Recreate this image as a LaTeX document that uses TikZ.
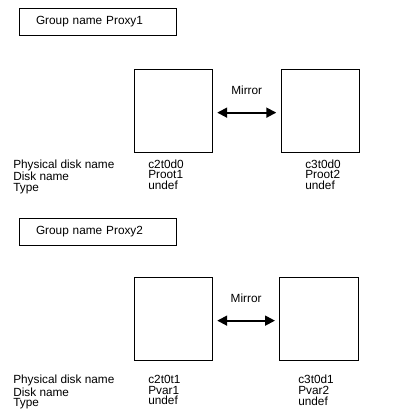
\documentclass[tikz,border=0pt]{standalone}
\usepackage{fontspec}
\setmainfont{Liberation Sans}
\usetikzlibrary{arrows.meta, positioning}

\begin{document}
\begin{tikzpicture}[>={Triangle[length=7pt,width=7pt]},
  txt/.style={font=\fontsize{8.4}{7.6}\selectfont},
  grpbox/.style={draw, txt, line width=0.6pt, align=left, text width=3.075cm,
                 minimum height=0.675cm, inner xsep=0.425cm, inner ysep=0pt},
  disk/.style={draw, line width=0.6pt, minimum width=1.96cm,
               minimum height=2.08cm, inner sep=0pt},
  info/.style={txt, anchor=north west, align=left, inner sep=0pt},
  mirror/.style={<->, line width=1.3pt, shorten >=0.11cm, shorten <=0.11cm}]

  \useasboundingbox (0,0) rectangle (10.5,10.5);

  % Grupo 1: Proxy1
  \node[grpbox] (grp1) at (2.4375, 9.9625) {Group name Proxy1};
  \node[disk] (dsk1) at (4.33, 7.734) {};
  \node[disk] (dsk2) at (8.0075, 7.734) {};
  \draw[mirror] ([yshift=-0.05cm]dsk1.east) --
        node[txt, above=0.44cm, inner sep=0pt] (mir1) {Mirror}
        ([yshift=-0.05cm]dsk2.west);

  \node[info] (lbl1) at (0.325, 6.52) {Physical disk name\\Disk name\\Type};
  \node[info] (inf1) at (3.7, 6.52) {c2t0d0\\Proot1\\undef};
  \node[info] (inf2) at (7.625, 6.52) {c3t0d0\\Proot2\\undef};

  % Grupo 2: Proxy2
  \node[grpbox] (grp2) at (2.4375, 4.7125) {Group name Proxy2};
  \node[disk] (dsk3) at (4.33, 2.534) {};
  \node[disk] (dsk4) at (7.975, 2.534) {};
  \draw[mirror] ([yshift=-0.05cm]dsk3.east) --
        node[txt, above=0.44cm, inner sep=0pt] (mir2) {Mirror}
        ([yshift=-0.05cm]dsk4.west);

  \node[info] (lbl2) at (0.325, 1.13) {Physical disk name\\Disk name\\Type};
  \node[info] (inf3) at (3.7, 1.13) {c2t0t1\\Pvar1\\undef};
  \node[info] (inf4) at (7.45, 1.13) {c3t0d1\\Pvar2\\undef};
\end{tikzpicture}
\end{document}
